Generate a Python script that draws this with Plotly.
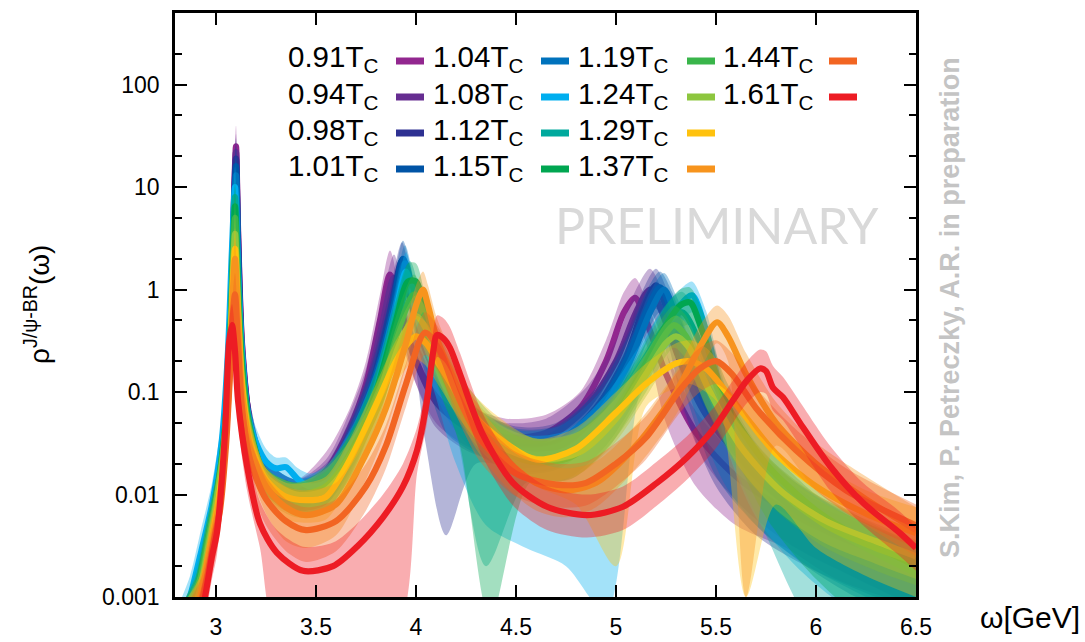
import plotly.graph_objects as go

# ---------------- data ----------------
LABELS = ["0.91", "0.94", "0.98", "1.01", "1.04", "1.08", "1.12",
          "1.15", "1.19", "1.24", "1.29", "1.37", "1.44", "1.61"]
COLORS = ["#92278f", "#662d91", "#2e3192", "#0054a6", "#0072bc", "#00aeef", "#00a99d",
          "#00a651", "#39b54a", "#8dc63f", "#ffc20e", "#f7941d", "#f26522", "#ed1c24"]

X_091 = [2.86, 2.92, 2.97, 3.02, 3.05, 3.075, 3.09, 3.1, 3.11, 3.13, 3.17, 3.25, 3.4, 3.55, 3.67, 3.75, 3.82, 3.87, 3.92, 4.0, 4.1, 4.25, 4.45, 4.65, 4.82, 4.95, 5.04, 5.095, 5.15, 5.25, 5.4, 5.6, 5.85, 6.1, 6.5]
Y_091 = [0.0006, 0.001, 0.003, 0.012, 0.05, 0.5, 8, 25, 4, 0.3, 0.05, 0.016, 0.0105, 0.017, 0.045, 0.12, 0.5, 1.4, 0.6, 0.2, 0.09, 0.05, 0.036, 0.04, 0.07, 0.2, 0.6, 0.83, 0.5, 0.15, 0.04, 0.015, 0.007, 0.004, 0.002]
HI_091 = [0.001, 0.0016, 0.005, 0.02, 0.08, 0.8, 13, 40, 7, 0.5, 0.08, 0.022, 0.014, 0.026, 0.07, 0.2, 0.9, 2.4, 1.0, 0.32, 0.14, 0.075, 0.055, 0.06, 0.1, 0.32, 0.95, 1.3, 0.8, 0.24, 0.065, 0.024, 0.011, 0.0065, 0.0033]
LO_091 = [0.0003, 0.0006, 0.0018, 0.007, 0.03, 0.3, 4.5, 15, 2.2, 0.17, 0.03, 0.011, 0.007, 0.011, 0.028, 0.07, 0.28, 0.8, 0.35, 0.12, 0.05, 0.03, 0.022, 0.024, 0.042, 0.12, 0.36, 0.5, 0.3, 0.05, 0.012, 0.005, 0.003, 0.0015, 0.0008]

X_094 = [2.86, 2.92, 2.97, 3.02, 3.05, 3.075, 3.09, 3.1, 3.11, 3.13, 3.17, 3.25, 3.4, 3.55, 3.67, 3.75, 3.83, 3.89, 3.94, 4.0, 4.1, 4.25, 4.45, 4.65, 4.85, 5.0, 5.1, 5.17, 5.23, 5.32, 5.45, 5.65, 5.9, 6.15, 6.5]
Y_094 = [0.0006, 0.001, 0.003, 0.012, 0.05, 0.5, 7, 22, 3.5, 0.28, 0.05, 0.016, 0.0105, 0.015, 0.04, 0.1, 0.45, 1.3, 0.5, 0.2, 0.08, 0.045, 0.032, 0.035, 0.07, 0.2, 0.6, 1.0, 0.6, 0.2, 0.06, 0.02, 0.008, 0.0045, 0.0022]
HI_094 = [0.001, 0.0016, 0.005, 0.019, 0.08, 0.8, 11, 33, 6, 0.45, 0.08, 0.022, 0.014, 0.022, 0.065, 0.17, 0.8, 2.2, 0.85, 0.32, 0.13, 0.07, 0.05, 0.055, 0.11, 0.32, 1.0, 1.6, 1.0, 0.32, 0.1, 0.032, 0.013, 0.007, 0.0036]
LO_094 = [0.0003, 0.0006, 0.0018, 0.007, 0.03, 0.3, 4.2, 14, 2, 0.16, 0.03, 0.011, 0.007, 0.01, 0.024, 0.06, 0.26, 0.75, 0.3, 0.12, 0.045, 0.027, 0.02, 0.021, 0.042, 0.12, 0.35, 0.6, 0.33, 0.08, 0.02, 0.007, 0.003, 0.0017, 0.0008]

X_098 = [2.86, 2.91, 2.97, 3.02, 3.05, 3.075, 3.09, 3.1, 3.11, 3.13, 3.17, 3.25, 3.4, 3.55, 3.67, 3.78, 3.87, 3.93, 3.98, 4.05, 4.15, 4.3, 4.5, 4.7, 4.9, 5.05, 5.13, 5.2, 5.26, 5.35, 5.5, 5.7, 5.95, 6.2, 6.5]
Y_098 = [0.0006, 0.001, 0.0035, 0.013, 0.055, 0.5, 6, 19, 3, 0.25, 0.05, 0.016, 0.0105, 0.013, 0.035, 0.12, 0.6, 1.9, 0.7, 0.25, 0.1, 0.045, 0.03, 0.032, 0.07, 0.22, 0.6, 1.1, 0.6, 0.2, 0.05, 0.015, 0.006, 0.0035, 0.002]
HI_098 = [0.001, 0.0016, 0.0055, 0.02, 0.09, 0.8, 10, 30, 5, 0.4, 0.08, 0.022, 0.014, 0.02, 0.055, 0.2, 1.0, 2.9, 1.1, 0.4, 0.16, 0.07, 0.046, 0.05, 0.11, 0.35, 0.95, 1.6, 0.95, 0.32, 0.08, 0.025, 0.01, 0.0058, 0.0033]
LO_098 = [0.0003, 0.0006, 0.002, 0.008, 0.033, 0.3, 3.6, 12, 1.7, 0.15, 0.03, 0.011, 0.007, 0.008, 0.021, 0.07, 0.35, 1.1, 0.35, 0.03, 0.004, 0.02, 0.018, 0.02, 0.042, 0.13, 0.36, 0.65, 0.3, 0.06, 0.012, 0.004, 0.002, 0.0012, 0.0007]

X_101 = [2.86, 2.91, 2.97, 3.02, 3.05, 3.075, 3.09, 3.1, 3.11, 3.13, 3.17, 3.25, 3.4, 3.55, 3.67, 3.78, 3.88, 3.935, 3.99, 4.06, 4.15, 4.3, 4.5, 4.7, 4.9, 5.05, 5.15, 5.22, 5.28, 5.37, 5.5, 5.7, 5.95, 6.2, 6.5]
Y_101 = [0.0006, 0.001, 0.0035, 0.013, 0.055, 0.5, 5.5, 16, 2.6, 0.22, 0.045, 0.016, 0.0105, 0.012, 0.032, 0.11, 0.6, 2.0, 0.7, 0.25, 0.1, 0.045, 0.028, 0.03, 0.065, 0.2, 0.6, 1.05, 0.6, 0.2, 0.06, 0.018, 0.007, 0.0035, 0.0018]
HI_101 = [0.001, 0.0016, 0.0055, 0.02, 0.09, 0.8, 9, 25, 4.3, 0.36, 0.072, 0.022, 0.014, 0.018, 0.05, 0.18, 1.0, 3.0, 1.1, 0.4, 0.16, 0.07, 0.044, 0.047, 0.1, 0.32, 0.95, 1.5, 0.95, 0.32, 0.095, 0.029, 0.011, 0.0057, 0.003]
LO_101 = [0.0003, 0.0006, 0.002, 0.008, 0.033, 0.3, 3.3, 10, 1.5, 0.13, 0.027, 0.011, 0.007, 0.008, 0.019, 0.065, 0.35, 1.2, 0.4, 0.12, 0.04, 0.025, 0.017, 0.018, 0.04, 0.12, 0.36, 0.6, 0.3, 0.07, 0.015, 0.005, 0.002, 0.001, 0.0006]

X_104 = [2.85, 2.9, 2.96, 3.01, 3.05, 3.075, 3.09, 3.1, 3.11, 3.13, 3.17, 3.25, 3.4, 3.55, 3.68, 3.8, 3.89, 3.945, 4.0, 4.07, 4.17, 4.32, 4.52, 4.72, 4.92, 5.07, 5.17, 5.24, 5.3, 5.4, 5.55, 5.75, 6.0, 6.25, 6.5]
Y_104 = [0.0006, 0.001, 0.0035, 0.012, 0.06, 0.5, 5, 13, 2.2, 0.2, 0.045, 0.016, 0.0105, 0.012, 0.032, 0.12, 0.6, 1.8, 0.65, 0.22, 0.09, 0.04, 0.027, 0.03, 0.065, 0.2, 0.6, 1.0, 0.55, 0.18, 0.05, 0.015, 0.006, 0.0032, 0.0018]
HI_104 = [0.001, 0.0016, 0.0055, 0.019, 0.095, 0.8, 8, 20, 3.6, 0.33, 0.072, 0.022, 0.014, 0.018, 0.05, 0.19, 0.95, 2.7, 1.0, 0.35, 0.14, 0.062, 0.042, 0.047, 0.1, 0.32, 0.95, 1.45, 0.88, 0.29, 0.08, 0.024, 0.0098, 0.0053, 0.003]
LO_104 = [0.0003, 0.0006, 0.002, 0.0072, 0.036, 0.3, 3, 8, 1.3, 0.12, 0.027, 0.011, 0.007, 0.008, 0.019, 0.07, 0.36, 1.1, 0.38, 0.13, 0.05, 0.024, 0.016, 0.018, 0.04, 0.12, 0.36, 0.6, 0.3, 0.06, 0.012, 0.004, 0.0018, 0.001, 0.0006]

X_108 = [2.83, 2.87, 2.93, 2.98, 3.03, 3.06, 3.08, 3.095, 3.11, 3.13, 3.16, 3.2, 3.25, 3.3, 3.35, 3.41, 3.47, 3.55, 3.68, 3.8, 3.89, 3.95, 4.0, 4.08, 4.2, 4.35, 4.55, 4.75, 4.95, 5.12, 5.25, 5.32, 5.38, 5.45, 5.55, 5.7, 5.9, 6.15, 6.5]
Y_108 = [0.0006, 0.001, 0.003, 0.008, 0.035, 0.25, 2.5, 10, 1.5, 0.25, 0.06, 0.032, 0.021, 0.018, 0.0185, 0.014, 0.012, 0.013, 0.03, 0.11, 0.5, 1.5, 0.6, 0.2, 0.08, 0.04, 0.025, 0.027, 0.06, 0.18, 0.45, 0.7, 0.88, 0.4, 0.07, 0.02, 0.008, 0.004, 0.002]
HI_108 = [0.001, 0.0016, 0.005, 0.013, 0.056, 0.4, 4, 16, 2.4, 0.4, 0.09, 0.045, 0.028, 0.023, 0.023, 0.018, 0.016, 0.019, 0.046, 0.17, 0.8, 2.3, 0.95, 0.32, 0.12, 0.06, 0.038, 0.042, 0.095, 0.29, 0.7, 1.0, 1.2, 0.62, 0.11, 0.032, 0.013, 0.0065, 0.0033]
LO_108 = [0.0003, 0.0006, 0.0018, 0.0048, 0.021, 0.15, 1.5, 6, 0.9, 0.15, 0.036, 0.022, 0.015, 0.013, 0.014, 0.01, 0.008, 0.008, 0.018, 0.066, 0.3, 0.9, 0.36, 0.12, 0.02, 0.005, 0.003, 0.002, 0.0007, 0.1, 0.28, 0.45, 0.6, 0.24, 0.03, 0.006, 0.002, 0.0008, 0.0004]

X_112 = [2.85, 2.89, 2.95, 3.0, 3.04, 3.07, 3.085, 3.095, 3.11, 3.13, 3.17, 3.25, 3.4, 3.55, 3.68, 3.8, 3.9, 3.97, 4.02, 4.1, 4.2, 4.35, 4.55, 4.75, 4.95, 5.1, 5.23, 5.33, 5.42, 5.55, 5.75, 6.0, 6.25, 6.5]
Y_112 = [0.0006, 0.001, 0.003, 0.009, 0.035, 0.3, 2.5, 8, 1.3, 0.2, 0.045, 0.015, 0.0102, 0.0115, 0.028, 0.1, 0.45, 1.2, 0.6, 0.2, 0.08, 0.035, 0.022, 0.024, 0.05, 0.14, 0.4, 0.6, 0.3, 0.07, 0.018, 0.006, 0.003, 0.0017]
HI_112 = [0.001, 0.0016, 0.005, 0.015, 0.056, 0.48, 4, 12.5, 2.1, 0.32, 0.07, 0.018, 0.013, 0.017, 0.045, 0.16, 0.72, 1.9, 0.95, 0.32, 0.13, 0.056, 0.035, 0.038, 0.08, 0.22, 0.64, 0.95, 0.48, 0.11, 0.03, 0.01, 0.005, 0.003]
LO_112 = [0.0003, 0.0006, 0.0018, 0.0054, 0.021, 0.18, 1.5, 5, 0.8, 0.12, 0.027, 0.01, 0.0066, 0.007, 0.017, 0.06, 0.27, 0.72, 0.36, 0.12, 0.04, 0.002, 0.013, 0.014, 0.03, 0.084, 0.24, 0.36, 0.15, 0.03, 0.004, 0.0005, 0.0005, 0.0006]

X_115 = [2.85, 2.9, 2.95, 3.0, 3.04, 3.07, 3.085, 3.095, 3.11, 3.13, 3.17, 3.25, 3.4, 3.55, 3.68, 3.8, 3.9, 3.96, 4.0, 4.05, 4.12, 4.22, 4.37, 4.57, 4.77, 4.97, 5.12, 5.25, 5.32, 5.37, 5.43, 5.55, 5.75, 6.0, 6.25, 6.5]
Y_115 = [0.0006, 0.001, 0.003, 0.009, 0.035, 0.3, 2.2, 6.5, 1.1, 0.18, 0.042, 0.015, 0.0102, 0.0115, 0.027, 0.1, 0.5, 1.2, 1.2, 0.5, 0.18, 0.07, 0.033, 0.021, 0.023, 0.05, 0.15, 0.45, 0.7, 0.75, 0.4, 0.08, 0.02, 0.007, 0.0035, 0.002]
HI_115 = [0.001, 0.0016, 0.005, 0.015, 0.056, 0.48, 3.5, 10, 1.8, 0.29, 0.067, 0.018, 0.013, 0.017, 0.043, 0.16, 0.8, 1.8, 1.8, 0.8, 0.29, 0.11, 0.053, 0.034, 0.037, 0.08, 0.24, 0.7, 1.0, 1.05, 0.64, 0.13, 0.032, 0.011, 0.0056, 0.0032]
LO_115 = [0.0003, 0.0006, 0.0018, 0.0054, 0.021, 0.18, 1.3, 4, 0.66, 0.11, 0.025, 0.01, 0.0066, 0.007, 0.016, 0.06, 0.3, 0.72, 0.72, 0.3, 0.1, 0.03, 0.0006, 0.013, 0.014, 0.03, 0.09, 0.27, 0.42, 0.45, 0.2, 0.04, 0.006, 0.0015, 0.0006, 0.0005]

X_119 = [2.85, 2.9, 2.95, 3.0, 3.04, 3.07, 3.085, 3.095, 3.11, 3.13, 3.17, 3.25, 3.4, 3.55, 3.7, 3.82, 3.92, 3.99, 4.05, 4.13, 4.25, 4.4, 4.6, 4.8, 5.0, 5.15, 5.24, 5.29, 5.35, 5.45, 5.6, 5.8, 6.05, 6.3, 6.5]
Y_119 = [0.0006, 0.001, 0.003, 0.009, 0.033, 0.28, 1.8, 5, 0.9, 0.16, 0.04, 0.015, 0.01, 0.012, 0.03, 0.1, 0.45, 0.9, 0.5, 0.2, 0.075, 0.035, 0.022, 0.025, 0.06, 0.17, 0.35, 0.45, 0.35, 0.12, 0.035, 0.012, 0.005, 0.003, 0.0022]
HI_119 = [0.001, 0.0016, 0.005, 0.015, 0.053, 0.45, 2.9, 8, 1.45, 0.26, 0.064, 0.018, 0.013, 0.019, 0.048, 0.16, 0.72, 1.4, 0.8, 0.32, 0.12, 0.056, 0.035, 0.04, 0.096, 0.27, 0.56, 0.7, 0.56, 0.19, 0.056, 0.019, 0.008, 0.0048, 0.0035]
LO_119 = [0.0003, 0.0006, 0.0018, 0.0054, 0.02, 0.17, 1.1, 3, 0.54, 0.1, 0.024, 0.0096, 0.0063, 0.0072, 0.018, 0.06, 0.27, 0.54, 0.3, 0.12, 0.045, 0.021, 0.013, 0.015, 0.036, 0.1, 0.21, 0.27, 0.21, 0.07, 0.02, 0.007, 0.003, 0.0018, 0.0013]

X_124 = [2.86, 2.91, 2.96, 3.0, 3.04, 3.07, 3.085, 3.095, 3.11, 3.13, 3.17, 3.25, 3.4, 3.55, 3.7, 3.82, 3.92, 4.0, 4.07, 4.15, 4.27, 4.42, 4.62, 4.82, 5.0, 5.15, 5.25, 5.3, 5.36, 5.47, 5.62, 5.82, 6.05, 6.3, 6.5]
Y_124 = [0.0006, 0.001, 0.003, 0.008, 0.03, 0.25, 1.5, 3.5, 0.7, 0.13, 0.036, 0.015, 0.01, 0.011, 0.026, 0.08, 0.3, 0.55, 0.35, 0.15, 0.06, 0.03, 0.022, 0.026, 0.055, 0.15, 0.3, 0.35, 0.28, 0.1, 0.03, 0.011, 0.0055, 0.0035, 0.0025]
HI_124 = [0.001, 0.0016, 0.005, 0.013, 0.048, 0.4, 2.4, 5.6, 1.1, 0.21, 0.058, 0.018, 0.013, 0.018, 0.042, 0.13, 0.48, 0.88, 0.56, 0.24, 0.096, 0.048, 0.035, 0.042, 0.088, 0.24, 0.48, 0.56, 0.45, 0.16, 0.048, 0.018, 0.0088, 0.0056, 0.004]
LO_124 = [0.0003, 0.0006, 0.0018, 0.0048, 0.018, 0.15, 0.9, 2.1, 0.42, 0.078, 0.022, 0.009, 0.006, 0.0066, 0.016, 0.048, 0.18, 0.33, 0.21, 0.09, 0.036, 0.018, 0.013, 0.016, 0.033, 0.09, 0.18, 0.21, 0.17, 0.06, 0.018, 0.0066, 0.0033, 0.0021, 0.0015]

X_129 = [2.86, 2.92, 2.97, 3.01, 3.045, 3.07, 3.085, 3.095, 3.11, 3.13, 3.17, 3.25, 3.35, 3.45, 3.55, 3.67, 3.8, 3.9, 3.96, 4.0, 4.05, 4.12, 4.22, 4.35, 4.6, 4.8, 5.0, 5.15, 5.3, 5.37, 5.45, 5.52, 5.65, 5.8, 6.0, 6.25, 6.5]
Y_129 = [0.0006, 0.001, 0.003, 0.008, 0.03, 0.2, 1.2, 2.5, 0.6, 0.12, 0.033, 0.014, 0.0095, 0.0088, 0.0095, 0.022, 0.075, 0.2, 0.3, 0.35, 0.3, 0.18, 0.09, 0.045, 0.022, 0.028, 0.063, 0.12, 0.19, 0.2, 0.17, 0.12, 0.057, 0.025, 0.012, 0.0065, 0.0042]
HI_129 = [0.001, 0.0016, 0.005, 0.013, 0.048, 0.32, 1.9, 4, 0.96, 0.19, 0.053, 0.018, 0.013, 0.013, 0.015, 0.035, 0.12, 0.32, 0.48, 0.56, 0.48, 0.29, 0.14, 0.072, 0.035, 0.045, 0.1, 0.19, 0.3, 0.32, 0.27, 0.19, 0.09, 0.042, 0.021, 0.011, 0.0075]
LO_129 = [0.0003, 0.0006, 0.0018, 0.0048, 0.018, 0.12, 0.72, 1.5, 0.36, 0.072, 0.02, 0.0084, 0.0057, 0.0053, 0.0057, 0.013, 0.045, 0.12, 0.18, 0.21, 0.18, 0.11, 0.054, 0.027, 0.012, 0.008, 0.002, 0.072, 0.11, 0.12, 0.1, 0.072, 0.001, 0.008, 0.003, 0.0016, 0.001]

X_137 = [2.87, 2.92, 2.97, 3.01, 3.045, 3.07, 3.085, 3.095, 3.11, 3.13, 3.17, 3.25, 3.35, 3.45, 3.6, 3.75, 3.85, 3.95, 4.0, 4.035, 4.06, 4.1, 4.2, 4.3, 4.45, 4.6, 4.75, 4.9, 5.1, 5.3, 5.43, 5.505, 5.56, 5.65, 5.8, 6.0, 6.25, 6.5]
Y_137 = [0.0006, 0.001, 0.003, 0.007, 0.028, 0.18, 1.0, 2.0, 0.5, 0.1, 0.03, 0.012, 0.0075, 0.0063, 0.008, 0.025, 0.07, 0.3, 0.7, 1.0, 0.7, 0.35, 0.12, 0.05, 0.022, 0.013, 0.011, 0.013, 0.03, 0.1, 0.3, 0.48, 0.35, 0.15, 0.05, 0.02, 0.009, 0.0045]
HI_137 = [0.001, 0.0016, 0.005, 0.012, 0.045, 0.29, 1.6, 3.2, 0.8, 0.16, 0.048, 0.018, 0.012, 0.011, 0.013, 0.04, 0.11, 0.48, 1.1, 1.5, 1.1, 0.56, 0.19, 0.08, 0.035, 0.021, 0.018, 0.021, 0.048, 0.16, 0.48, 0.7, 0.56, 0.24, 0.08, 0.032, 0.015, 0.0075]
LO_137 = [0.0003, 0.0006, 0.0018, 0.0042, 0.017, 0.11, 0.6, 1.2, 0.3, 0.06, 0.018, 0.0065, 0.0035, 0.003, 0.004, 0.014, 0.042, 0.18, 0.42, 0.6, 0.42, 0.2, 0.07, 0.028, 0.012, 0.007, 0.006, 0.0075, 0.018, 0.06, 0.18, 0.3, 0.2, 0.001, 0.03, 0.011, 0.005, 0.0025]

X_144 = [2.88, 2.93, 2.98, 3.02, 3.05, 3.07, 3.085, 3.095, 3.11, 3.13, 3.17, 3.25, 3.35, 3.45, 3.6, 3.75, 3.85, 3.95, 4.045, 4.12, 4.2, 4.32, 4.5, 4.7, 4.85, 5.0, 5.15, 5.32, 5.42, 5.5, 5.58, 5.7, 5.9, 6.15, 6.5]
Y_144 = [0.0006, 0.001, 0.0028, 0.007, 0.03, 0.15, 0.6, 0.9, 0.3, 0.07, 0.022, 0.009, 0.0055, 0.0045, 0.0055, 0.012, 0.03, 0.12, 0.38, 0.25, 0.1, 0.035, 0.016, 0.0125, 0.013, 0.02, 0.036, 0.105, 0.17, 0.2, 0.15, 0.07, 0.027, 0.011, 0.005]
HI_144 = [0.001, 0.0016, 0.0045, 0.011, 0.048, 0.24, 0.96, 1.45, 0.48, 0.11, 0.035, 0.015, 0.009, 0.0075, 0.009, 0.02, 0.048, 0.19, 0.6, 0.4, 0.16, 0.056, 0.026, 0.02, 0.021, 0.032, 0.058, 0.17, 0.27, 0.32, 0.24, 0.11, 0.043, 0.018, 0.008]
LO_144 = [0.0003, 0.0006, 0.0017, 0.0042, 0.018, 0.09, 0.36, 0.54, 0.18, 0.042, 0.013, 0.005, 0.0028, 0.0022, 0.0028, 0.007, 0.018, 0.072, 0.23, 0.15, 0.06, 0.021, 0.0096, 0.0075, 0.0078, 0.012, 0.022, 0.063, 0.1, 0.12, 0.09, 0.042, 0.016, 0.0066, 0.003]

X_161 = [2.9, 2.945, 2.98, 3.005, 3.045, 3.065, 3.08, 3.095, 3.11, 3.155, 3.22, 3.305, 3.435, 3.585, 3.705, 3.835, 3.935, 4.005, 4.055, 4.085, 4.105, 4.14, 4.17, 4.22, 4.33, 4.485, 4.655, 4.855, 5.035, 5.205, 5.355, 5.485, 5.585, 5.655, 5.72, 5.75, 5.785, 5.835, 5.92, 6.07, 6.235, 6.42, 6.5]
Y_161 = [0.0004, 0.001, 0.0025, 0.0043, 0.04, 0.3, 0.45, 0.25, 0.083, 0.019, 0.0052, 0.0027, 0.0018, 0.002, 0.0031, 0.006, 0.012, 0.027, 0.083, 0.24, 0.36, 0.33, 0.27, 0.15, 0.04, 0.013, 0.0076, 0.0063, 0.0076, 0.013, 0.023, 0.043, 0.083, 0.13, 0.17, 0.16, 0.11, 0.089, 0.05, 0.019, 0.0083, 0.0042, 0.003]
HI_161 = [0.0007, 0.0017, 0.0042, 0.0072, 0.065, 0.48, 0.72, 0.4, 0.13, 0.031, 0.0085, 0.0045, 0.0031, 0.0034, 0.0052, 0.01, 0.02, 0.045, 0.13, 0.38, 0.56, 0.52, 0.43, 0.24, 0.064, 0.021, 0.012, 0.01, 0.012, 0.021, 0.037, 0.069, 0.13, 0.2, 0.26, 0.25, 0.18, 0.14, 0.08, 0.03, 0.013, 0.0068, 0.0048]
LO_161 = [0.0002, 0.0006, 0.0015, 0.0026, 0.024, 0.18, 0.27, 0.15, 0.05, 0.011, 0.003, 0.0004, 0.0004, 0.0004, 0.0004, 0.0005, 0.0007, 0.016, 0.05, 0.14, 0.22, 0.2, 0.16, 0.09, 0.024, 0.0078, 0.0045, 0.0038, 0.0045, 0.0078, 0.014, 0.026, 0.05, 0.078, 0.1, 0.096, 0.066, 0.053, 0.03, 0.011, 0.005, 0.0025, 0.0018]

SERIES_X = [X_091, X_094, X_098, X_101, X_104, X_108, X_112, X_115, X_119, X_124, X_129, X_137, X_144, X_161]
SERIES_Y = [Y_091, Y_094, Y_098, Y_101, Y_104, Y_108, Y_112, Y_115, Y_119, Y_124, Y_129, Y_137, Y_144, Y_161]
SERIES_HI = [HI_091, HI_094, HI_098, HI_101, HI_104, HI_108, HI_112, HI_115, HI_119, HI_124, HI_129, HI_137, HI_144, HI_161]
SERIES_LO = [LO_091, LO_094, LO_098, LO_101, LO_104, LO_108, LO_112, LO_115, LO_119, LO_124, LO_129, LO_137, LO_144, LO_161]

X_TICKS = [3, 3.5, 4, 4.5, 5, 5.5, 6, 6.5]
X_TICKTEXT = ["3", "3.5", "4", "4.5", "5", "5.5", "6", "6.5"]
Y_TICKS = [0.001, 0.01, 0.1, 1, 10, 100]
Y_TICKTEXT = ["0.001", "0.01", "0.1", "1", "10", "100"]
Y_MINOR = [0.002, 0.005, 0.02, 0.05, 0.2, 0.5, 2, 5, 20, 50, 200]

# ---------------- layout geometry (pixels) ----------------
W, H = 1085, 642
L, R, T, B = 175, 916, 13, 597
FONT = "Liberation Sans, Arial, sans-serif"


def px(xp):
    return (xp - L) / (R - L)


def py(yp):
    return (B - yp) / (B - T)


def rgba(hex_color, a):
    h = hex_color.lstrip("#")
    return "rgba(%d,%d,%d,%.2f)" % (int(h[0:2], 16), int(h[2:4], 16), int(h[4:6], 16), a)


fig = go.Figure()
for xs, ys, his, los, col in zip(SERIES_X, SERIES_Y, SERIES_HI, SERIES_LO, COLORS):
    fig.add_trace(go.Scatter(x=xs, y=his, mode="lines", line=dict(width=0, shape="spline", smoothing=0.8),
                             showlegend=False, hoverinfo="skip"))
    fig.add_trace(go.Scatter(x=xs, y=los, mode="lines", line=dict(width=0, shape="spline", smoothing=0.8),
                             fill="tonexty", fillcolor=rgba(col, 0.36), showlegend=False, hoverinfo="skip"))
    fig.add_trace(go.Scatter(x=xs, y=ys, mode="lines", line=dict(color=col, width=6.2, shape="spline", smoothing=0.8),
                             showlegend=False))

fig.update_layout(
    width=W, height=H,
    margin=dict(l=L, r=W - R, t=T, b=H - B, pad=0, autoexpand=False),
    paper_bgcolor="white", plot_bgcolor="white",
    font=dict(family=FONT, color="black", size=23),
    showlegend=False,
)
fig.update_xaxes(range=[2.795, 6.5], tickvals=X_TICKS, ticktext=X_TICKTEXT, automargin=False,
                 ticks="inside", ticklen=12, tickwidth=2, tickcolor="black",
                 showline=True, linewidth=2.5, linecolor="black", mirror="ticks",
                 showgrid=False, zeroline=False, ticklabelstandoff=8,
                 tickfont=dict(size=23))
fig.update_yaxes(type="log", range=[-3, 2.699], tickvals=Y_TICKS, ticktext=Y_TICKTEXT, automargin=False,
                 ticks="inside", ticklen=12, tickwidth=2, tickcolor="black",
                 showline=True, linewidth=2.5, linecolor="black", mirror="ticks",
                 showgrid=False, zeroline=False, ticklabelstandoff=8,
                 tickfont=dict(size=23),
                 minor=dict(tickvals=Y_MINOR, ticks="inside", ticklen=7, tickwidth=1.5,
                            tickcolor="black", showgrid=False))

annotations = []
# legend: 4 columns, label right-aligned, swatch to the right
label_right = [380, 525, 670, 815]
swatch_left = [396, 541, 687, 829]
row_y = [61, 97, 133, 169]
shapes = []
for i, (lab, col) in enumerate(zip(LABELS, COLORS)):
    c, r = i // 4, i % 4
    annotations.append(dict(text=lab + "T<sub>C</sub>", xref="paper", yref="paper",
                            x=px(label_right[c]), y=py(row_y[r] - 2), xanchor="right", yanchor="middle",
                            showarrow=False, font=dict(size=29.5, family=FONT, color="black")))
    shapes.append(dict(type="line", xref="paper", yref="paper",
                       x0=px(swatch_left[c]), x1=px(swatch_left[c] + 28),
                       y0=py(row_y[r]), y1=py(row_y[r]),
                       line=dict(color=col, width=7)))

annotations.append(dict(text="PRELIMINARY", xref="paper", yref="paper", x=px(717), y=py(225),
                        xanchor="center", yanchor="middle", showarrow=False,
                        font=dict(size=50, family="Lato, sans-serif", color="#d9d9d9")))
annotations.append(dict(text="<b>S.Kim, P. Petreczky, A.R. in preparation</b>", xref="paper", yref="paper",
                        x=px(950), y=py(308), xanchor="center", yanchor="middle", textangle=-90,
                        showarrow=False, font=dict(size=27, family=FONT, color="#c4c4c4")))
annotations.append(dict(text="ρ<sup>J/ψ-BR</sup>(ω)", xref="paper", yref="paper", x=px(37), y=py(305),
                        xanchor="center", yanchor="middle", textangle=-90, showarrow=False,
                        font=dict(size=28, family=FONT, color="black")))
annotations.append(dict(text="ω[GeV]", xref="paper", yref="paper", x=px(1082), y=py(617),
                        xanchor="right", yanchor="middle", showarrow=False,
                        font=dict(size=30, family=FONT, color="black")))

fig.update_layout(annotations=annotations, shapes=shapes)
fig.write_html("out.html")
